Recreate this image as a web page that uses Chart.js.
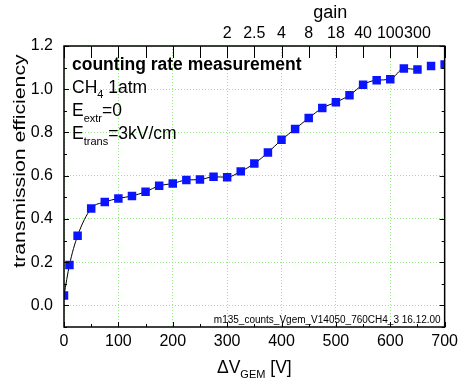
<!DOCTYPE html>
<html lang="en">
<head>
<meta charset="UTF-8">
<title>Transmission efficiency vs GEM voltage</title>
<script src="https://cdn.jsdelivr.net/npm/chart.js"></script>
<style>
  html, body { margin: 0; padding: 0; background: #fff; }
  #chart-container { width: 463px; height: 385px; }
</style>
</head>
<body>
<div id="chart-container"><canvas id="effChart"></canvas></div>
<script>
// measured points: GEM voltage [V] and transmission efficiency
const voltages = [0, 10, 25, 50, 75, 100, 125, 150, 175, 200, 225, 250, 275, 300, 325,
                  350, 375, 400, 425, 450, 475, 500, 525, 550, 575, 600, 625, 650, 675, 700];
const efficiency = [0.046, 0.187, 0.322, 0.448, 0.478, 0.495, 0.506, 0.526, 0.553, 0.564, 0.580, 0.582, 0.595, 0.593, 0.620,
                    0.656, 0.707, 0.766, 0.816, 0.867, 0.913, 0.940, 0.972, 1.021, 1.042, 1.046, 1.096, 1.091, 1.107, 1.114];
const fitLastVoltage = 650;   // the drawn curve stops here

const xTicks = [0, 100, 200, 300, 400, 500, 600, 700];
const yTicks = [0, 0.2, 0.4, 0.6, 0.8, 1.0, 1.2];
const gainPositions = [300, 350, 400, 450, 500, 550, 600, 650];
const gainLabels = ['2', '2.5', '4', '8', '18', '40', '100', '300'];

const FONT = "'Liberation Sans', Arial, sans-serif";

const markers = voltages.map((v, i) => ({ x: v, y: efficiency[i] }));
const fitCurve = markers.filter(p => p.x <= fitLastVoltage);

// text with sub-scripts: parts = [text, size, dy]
function drawRich(ctx, x, y, parts, weight) {
  parts.forEach(([t, size, dy]) => {
    ctx.font = (weight || '') + ' ' + size + 'px ' + FONT;
    ctx.fillText(t, x, y + (dy || 0));
    x += ctx.measureText(t).width;
  });
}

const decorations = {
  id: 'decorations',
  afterDraw(chart) {
    const ctx = chart.ctx;
    const { left, right, top, bottom } = chart.chartArea;
    const xs = chart.scales.x, ys = chart.scales.y;
    ctx.save();
    ctx.strokeStyle = '#000';
    ctx.lineWidth = 1;

    // inward tick marks
    ctx.beginPath();
    for (let v = 0; v <= 700; v += 50) {
      const px = Math.round(xs.getPixelForValue(v)) + 0.5;
      const len = v % 100 === 0 ? 5 : 3;
      ctx.moveTo(px, bottom); ctx.lineTo(px, bottom - len);
      ctx.moveTo(px, top); ctx.lineTo(px, top + 12);
    }
    for (let k = -1; k <= 12; k++) {
      const py = Math.round(ys.getPixelForValue(k / 10)) + 0.5;
      const len = k % 2 === 0 ? 5 : 3;
      ctx.moveTo(left, py); ctx.lineTo(left + len, py);
      ctx.moveTo(right, py); ctx.lineTo(right - len, py);
    }
    ctx.stroke();

    // frame
    ctx.lineWidth = 1.5;
    ctx.strokeRect(left, top, right - left, bottom - top);

    // annotations
    ctx.fillStyle = '#000';
    ctx.textAlign = 'left';
    ctx.textBaseline = 'alphabetic';
    drawRich(ctx, left + 8, 70, [['counting rate measurement', 17.5]], 'bold');
    drawRich(ctx, left + 8, 93, [['CH', 17.5], ['4', 11, 5], [' 1atm', 17.5]]);
    drawRich(ctx, left + 8, 116, [['E', 17.5], ['extr', 11, 6], ['=0', 17.5]]);
    drawRich(ctx, left + 8, 139, [['E', 17.5], ['trans', 11, 6], ['=3kV/cm', 17.5]]);

    ctx.textAlign = 'right';
    ctx.font = '10px ' + FONT;
    ctx.fillText('m135_counts_Vgem_V14050_760CH4_3 16.12.00', right - 4, bottom - 4);

    // axis titles
    ctx.textAlign = 'left';
    const xt = [['\u0394V', 17.5], ['GEM', 11, 5], [' [V]', 17.5]];
    let w = 0;
    xt.forEach(([t, s]) => { ctx.font = s + 'px ' + FONT; w += ctx.measureText(t).width; });
    drawRich(ctx, (left + right) / 2 - w / 2, 373, xt);

    ctx.textAlign = 'center';
    ctx.font = '18px ' + FONT;
    ctx.fillText('gain', (left + right) / 2 + 76, 18);

    ctx.translate(25, 161);
    ctx.rotate(-Math.PI / 2);
    ctx.scale(1.25, 1);
    ctx.font = '17px ' + FONT;
    ctx.fillText('transmission efficiency', 0, 0);
    ctx.restore();
  }
};

new Chart(document.getElementById('effChart'), {
  type: 'scatter',
  data: {
    datasets: [{
      label: 'measurement',
      data: markers,
      pointStyle: 'rect',
      pointRadius: 6,
      pointHoverRadius: 6,
      pointBorderWidth: 0,
      backgroundColor: 'rgb(10, 20, 255)',
      showLine: false,
      order: 0
    }, {
      label: 'fit',
      data: fitCurve,
      showLine: true,
      borderColor: '#000',
      borderWidth: 1,
      pointRadius: 0,
      cubicInterpolationMode: 'monotone',
      order: 1
    }]
  },
  options: {
    responsive: true,
    maintainAspectRatio: false,
    animation: false,
    layout: { padding: { right: 14 } },
    plugins: { legend: { display: false }, tooltip: { enabled: false } },
    scales: {
      x: {
        type: 'linear', position: 'bottom', min: 0, max: 700,
        afterBuildTicks: s => { s.ticks = xTicks.map(v => ({ value: v })); },
        afterFit: s => { s.height = 58; },
        grid: { color: 'rgb(150, 235, 130)', drawTicks: false },
        border: { display: false, dash: [1, 2] },
        ticks: { padding: 5, color: '#000', font: { family: FONT, size: 16 }, maxRotation: 0, autoSkip: false }
      },
      x2: {
        type: 'linear', position: 'top', min: 0, max: 700,
        afterBuildTicks: s => { s.ticks = gainPositions.map(v => ({ value: v })); },
        afterFit: s => { s.height = 46; },
        grid: { display: false, drawTicks: false },
        border: { display: false },
        ticks: {
          padding: 3, color: '#000', font: { family: FONT, size: 16 }, maxRotation: 0, autoSkip: false,
          callback: v => gainLabels[gainPositions.indexOf(v)]
        }
      },
      y: {
        type: 'linear', min: -0.1, max: 1.2,
        afterBuildTicks: s => { s.ticks = yTicks.map(v => ({ value: v })); },
        afterFit: s => { s.width = 64; },
        grid: { color: 'rgb(150, 235, 130)', drawTicks: false },
        border: { display: false, dash: [1, 2] },
        ticks: { padding: 11, color: '#000', font: { family: FONT, size: 16 }, callback: v => v.toFixed(1) }
      }
    }
  },
  plugins: [decorations]
});
</script>
</body>
</html>
